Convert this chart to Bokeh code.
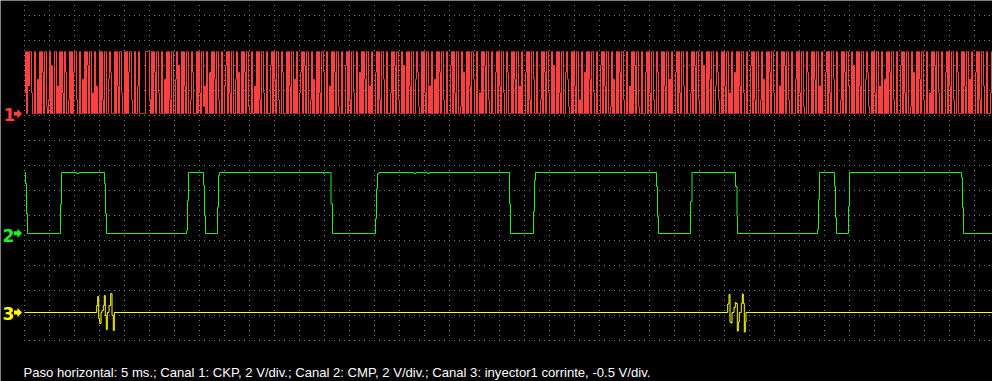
import numpy as np
from bokeh.plotting import figure
from bokeh.models import Range1d
from bokeh.core.properties import value
from bokeh.embed import file_html
from bokeh.resources import INLINE

# ---------------- data ----------------
# Channel 1 (CKP): one sample every 0.2 ms, each digit = level in steps of 0.55 V (9 -> 4.95 V)
CKP_DIVS = [
    "3909499300900509096099102",
    "9070099040909309600290906",
    "9920090050909709903090400",
    "9092099005960009094099300",
    "9090699200900490000009999",
    "2090960993009005090920990",
    "0590700909409900296000909",
    "3099140900609095099200900",
    "4790930990059060090960991",
    "0090040909209930090007909",
    "5099200960009094099050900",
    "3690970990029050090930996",
    "0090040909609910090007909",
    "2099300900609095099040900",
    "0690920995009000390970992",
    "0090700909409900596100909",
    "3099040900509096099200900",
    "0790930990019060090940995",
    "0090030909709920090006909",
    "4099300960009095099040900",
    "0690920995009000290960993",
    "0090700909309900695100909",
    "4099020900609095099300900",
    "0790940990019050090960992",
    "0090040909709910090006909",
    "3099200960009094099050900",
    "0690930994009000390970992",
    "0090700909509900496200909",
    "4099030900609094099300900",
    "0790920990029050090960993",
    "0090040909709920090005909",
    "3099100960009095099040900",
    "0690930995009000290960994",
    "0090700909409900596100909",
    "3099040900509096099200900",
    "0790930990019060090950992",
    "0090030909709930090006909",
    "4099200960009094099050900",
    "0690920994009000390960992",
    "0090700909309900695100909",
]
CKP_STEP_MS = 0.2
CKP_LEVEL_V = 0.55

# Channel 2 (CMP): step change points (ms, V)
CMP_T = [0, 0.2, 0.4, 0.6, 7.2, 7.4, 10.4, 10.9, 16.0, 16.2, 16.4, 32.4, 32.6, 32.8,
         35.8, 36.0, 36.2, 38.6, 38.8, 39.0, 59.8, 60.0, 61.3, 61.6, 70.2, 70.4, 70.6,
         70.9, 77.9, 78.3, 80.6, 81.0, 97.0, 97.2, 101.8, 102.0, 102.2, 126.4, 126.6,
         126.8, 133.2, 133.5, 142.2, 142.5, 142.6, 158.6, 158.8, 159.0, 162.0, 162.2,
         162.4, 164.8, 165.0, 187.4, 187.6, 187.8, 193.5]
CMP_V = [4.88, 4.0, 1.6, 0, 2.32, 4.88, 4.8, 4.88, 4.0, 1.6, 0, 0.24, 2.64, 4.88,
         3.86, 1.44, 0, 2.1, 4.64, 4.88, 4.8, 4.88, 2.38, 0, 1.18, 3.58, 4.78,
         4.88, 4.8, 4.88, 4.8, 4.88, 2.38, 0, 1.76, 4.24, 4.88, 3.76, 1.36,
         0, 2.56, 4.88, 3.76, 1.36, 0, 0.32, 2.72, 4.88, 3.76, 1.28,
         0, 2.16, 4.88, 4.48, 2.08, 0, 0]

# Channel 3 (injector current clamp): step change points (ms, V)
INJ_T = [0, 14.44, 14.64, 14.84, 15.04, 15.3, 15.5, 15.76, 15.96, 16.16, 16.36, 16.56,
         16.9, 17.24, 17.5, 17.76, 17.96,
         140.64, 140.9, 141.1, 141.3, 141.5, 141.9, 142.16, 142.3, 142.56, 142.76,
         142.96, 143.36, 143.56, 143.76, 143.96, 144.16, 144.3, 193.5]
INJ_V = [0, -0.14, -0.32, 0.12, 0.22, 0, -0.04, -0.14, -0.34, 0.06, 0.34, 0,
         -0.14, -0.38, 0.06, 0.36, 0,
         -0.17, -0.36, 0.19, 0.21, 0, -0.10, -0.20, -0.18, 0.37, 0.19,
         0, -0.18, -0.37, -0.18, 0.39, 0.19, 0, 0]

CAPTION = ("Paso horizontal: 5 ms.; Canal 1: CKP, 2 V/div.; Canal 2: CMP, 2 V/div.; "
           "Canal 3: inyector1 corrinte, -0.5 V/div.")

CH_SCALE = [2.0, 2.0, -0.5]   # V/div
CH_COLORS = ["#ff4040", "#20f020", "#ffff00"]
CH_LABELS = ["1", "2", "3"]

# ---------------- layout helpers (screen pixels -> data) ----------------
W, H = 992, 381
def px_to_t(px):
    return (px - 24.0) / 5.0
def row_to_y(row):
    return (340.0 - row) / 25.0

CH_ZERO_ROW = [113, 233, 312]
ch_zero = [row_to_y(r) for r in CH_ZERO_ROW]
TEXT_SHIFT = 5.5   # svg text baseline correction (px)

p = figure(width=W, height=H, output_backend="svg", toolbar_location=None,
           x_range=Range1d(px_to_t(0), px_to_t(W)), y_range=Range1d(row_to_y(H), row_to_y(0)),
           x_axis_location=None, y_axis_location=None,
           min_border=0, min_border_left=0, min_border_right=0,
           min_border_top=0, min_border_bottom=0,
           background_fill_color="black", border_fill_color="black",
           outline_line_color=None)
p.xgrid.visible = False
p.ygrid.visible = False

# dotted graticule
vx = [5.0 * k for k in range(39)]
p.segment(x0=vx, x1=vx, y0=[row_to_y(-0.5)] * len(vx), y1=[row_to_y(341)] * len(vx),
          line_color="#808080", line_width=1, line_dash="1 4")
hy = [float(k) for k in range(13, -1, -1)]
p.segment(x0=[px_to_t(23.5)] * len(hy), x1=[px_to_t(W)] * len(hy), y0=hy, y1=hy,
          line_color="#808080", line_width=1, line_dash="1 4")

# channel 1
levels = np.array([int(c) for s in CKP_DIVS for c in s], dtype=float)
t1 = np.arange(len(levels)) * CKP_STEP_MS
v1 = levels * CKP_LEVEL_V
p.step(t1, ch_zero[0] + v1 / CH_SCALE[0], mode="after", line_color=CH_COLORS[0], line_width=1)

# channel 2
p.step(CMP_T, [ch_zero[1] + v / CH_SCALE[1] for v in CMP_V], mode="after",
       line_color=CH_COLORS[1], line_width=1)

# channel 3
p.step(INJ_T, [ch_zero[2] + v / CH_SCALE[2] for v in INJ_V], mode="after",
       line_color=CH_COLORS[2], line_width=1)

# channel markers
marker_center = [113.3, 232.7, 312.0]
base_rows = [119.3, 240.0, 318.3]
label_px = [3.0, 2.0, 2.0]
for i in range(3):
    c = marker_center[i]
    xs = [13.5, 17, 17, 21.5, 17, 17, 13.5]
    ys = [c - 2, c - 2, c - 4.8, c, c + 4.8, c + 2, c + 2]
    p.patch([px_to_t(x) for x in xs], [row_to_y(y) for y in ys],
            fill_color=CH_COLORS[i], line_color=None)
    p.text(x=[px_to_t(label_px[i])], y=[row_to_y(base_rows[i] - TEXT_SHIFT)], text=[CH_LABELS[i]],
           text_font=value("DejaVu Sans"), text_font_style="bold", text_font_size="17px",
           text_color=CH_COLORS[i], text_baseline="alphabetic", text_align="left")

# caption
p.text(x=[px_to_t(23)], y=[row_to_y(377.7 - TEXT_SHIFT)], text=[CAPTION],
       text_font=value("Liberation Sans"), text_font_size="13.1px", text_color="white",
       text_baseline="alphabetic", text_align="left")

open("out.html", "w").write(file_html(p, INLINE))
